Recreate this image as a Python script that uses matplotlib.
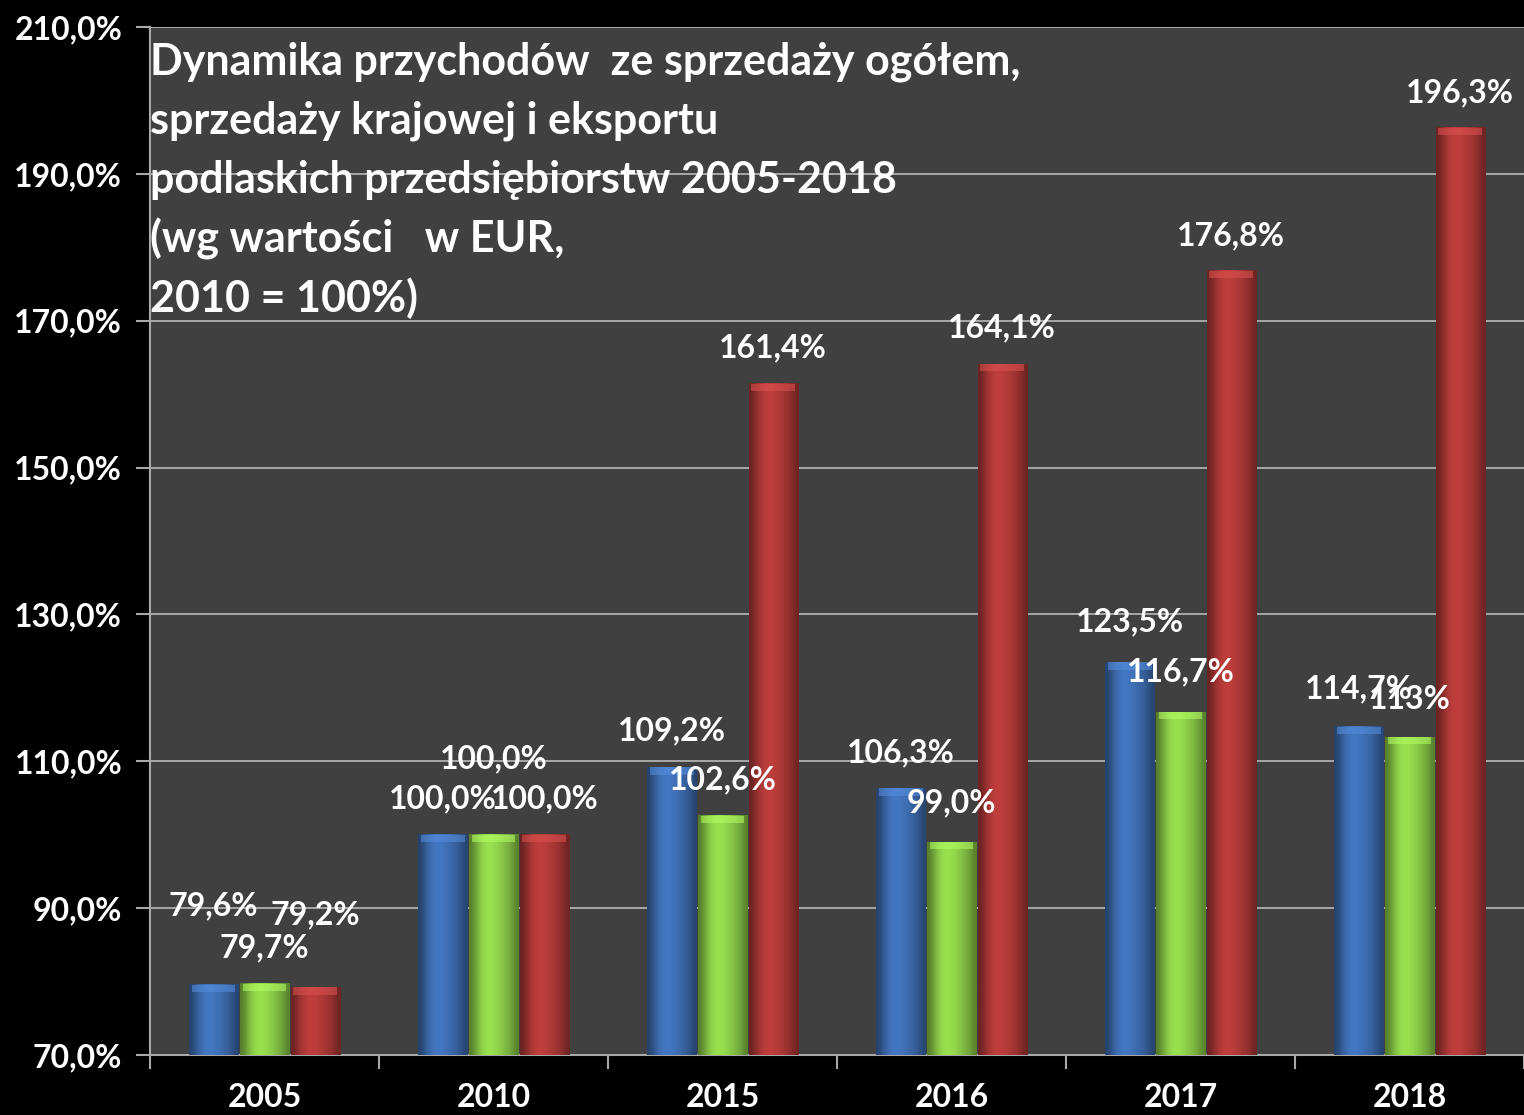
import numpy as np
import matplotlib
matplotlib.use('Agg')
import matplotlib.pyplot as plt
from matplotlib.colors import to_rgb
from matplotlib.ticker import FixedLocator

plt.rcParams['font.family'] = ['Lato', 'DejaVu Sans']
plt.rcParams['font.weight'] = 'bold'

# --- Data ---
years = ['2005', '2010', '2015', '2016', '2017', '2018']
ogolem = [79.6, 100.0, 109.2, 106.3, 123.5, 114.7]
krajowa = [79.7, 100.0, 102.6, 99.0, 116.7, 113.3]
eksport = [79.2, 100.0, 161.4, 164.1, 176.8, 196.3]
labels_ogolem = ['79,6%', '100,0%', '109,2%', '106,3%', '123,5%', '114,7%']
labels_krajowa = ['79,7%', '100,0%', '102,6%', '99,0%', '116,7%', '113%']
labels_eksport = ['79,2%', '100,0%', '161,4%', '164,1%', '176,8%', '196,3%']
yticks = [70, 90, 110, 130, 150, 170, 190, 210]

title_lines = ['Dynamika przychodów  ze sprzedaży ogółem,',
               'sprzedaży krajowej i eksportu',
               'podlaskich przedsiębiorstw 2005-2018',
               '(wg wartości   w EUR,',
               '2010 = 100%)']

# label lift above bar top (points), a few were moved by hand in the original
lift = {
    'ogolem': [57, 26, 26, 26, 29, 27],
    'krajowa': [26, 55, 26, 28, 29, 27],
    'eksport': [52, 26, 26, 26, 25, 25],
}

colors = {'ogolem': '#3f6fb5', 'krajowa': '#8fd24a', 'eksport': '#b23a38'}

# --- Figure ---
fig = plt.figure(figsize=(15.24, 11.15), dpi=100, facecolor='black')
ax = fig.add_axes([0.0984, 0.0538, 0.9016, 0.922])
ax.set_facecolor('#404040')

x = np.arange(len(years))
width = 0.215
step = 0.222

# horizontal shading profile for the "cylinder" look
prof = np.array([0.6, 0.78, 0.95, 1.05, 1.08, 1.05, 1.0, 0.93, 0.86, 0.76, 0.62])


def shaded_bar(xc, top, color):
    base = np.array(to_rgb(color))
    img = np.clip(base[None, :] * prof[:, None], 0, 1)[None, :, :]
    ax.imshow(img, extent=(xc - width / 2, xc + width / 2, 70, top),
              aspect='auto', interpolation='bicubic', zorder=3)
    # soft bevel at the top
    bev = np.clip(base * 1.15 + 0.06, 0, 1)
    ax.fill_between([xc - width / 2 + 0.012, xc + width / 2 - 0.012],
                    top - 1.0, top, color=bev, alpha=0.55, zorder=4, lw=0)


series = [('ogolem', ogolem, labels_ogolem, -step),
          ('krajowa', krajowa, labels_krajowa, 0.0),
          ('eksport', eksport, labels_eksport, step)]

for name, vals, labs, off in series:
    for i, v in enumerate(vals):
        shaded_bar(x[i] + off, v, colors[name])
        ax.annotate(labs[i], (x[i] + off, v), xytext=(0, lift[name][i]),
                    textcoords='offset points', ha='center', va='center',
                    color='white', fontsize=23, fontweight='bold', zorder=6)

ax.set_xlim(-0.5, len(years) - 0.5)
ax.set_ylim(70, 210)
ax.set_yticks(yticks)
ax.set_yticklabels([f'{t},0%' for t in yticks])
ax.yaxis.grid(True, color='#b0b0b0', lw=1.3, zorder=1)
ax.set_axisbelow(True)

ax.set_xticks(x)
ax.set_xticklabels(years)
ax.xaxis.set_minor_locator(FixedLocator(np.arange(-0.5, len(years), 1.0)))
ax.tick_params(axis='x', which='major', length=0, pad=20)
ax.tick_params(axis='x', which='minor', length=10, width=1.5, color='#a8a8a8')
ax.tick_params(axis='y', length=10, width=1.5, color='#a8a8a8', pad=10)
for lab in ax.get_xticklabels() + ax.get_yticklabels():
    lab.set_color('white')
    lab.set_fontsize(23)
    lab.set_fontweight('bold')

for s in ['top', 'right']:
    ax.spines[s].set_visible(False)
for s in ['left', 'bottom']:
    ax.spines[s].set_color('#a8a8a8')
    ax.spines[s].set_linewidth(1.5)

# title block, one line at a time (about 59 px apart)
for k, line in enumerate(title_lines):
    fig.text(0.0984, 1 - (62 + 59 * k) / 1115, line, color='white',
             fontsize=31, fontweight='bold', ha='left', va='center', zorder=10)

fig.savefig('out.png', dpi=100, facecolor='black')
